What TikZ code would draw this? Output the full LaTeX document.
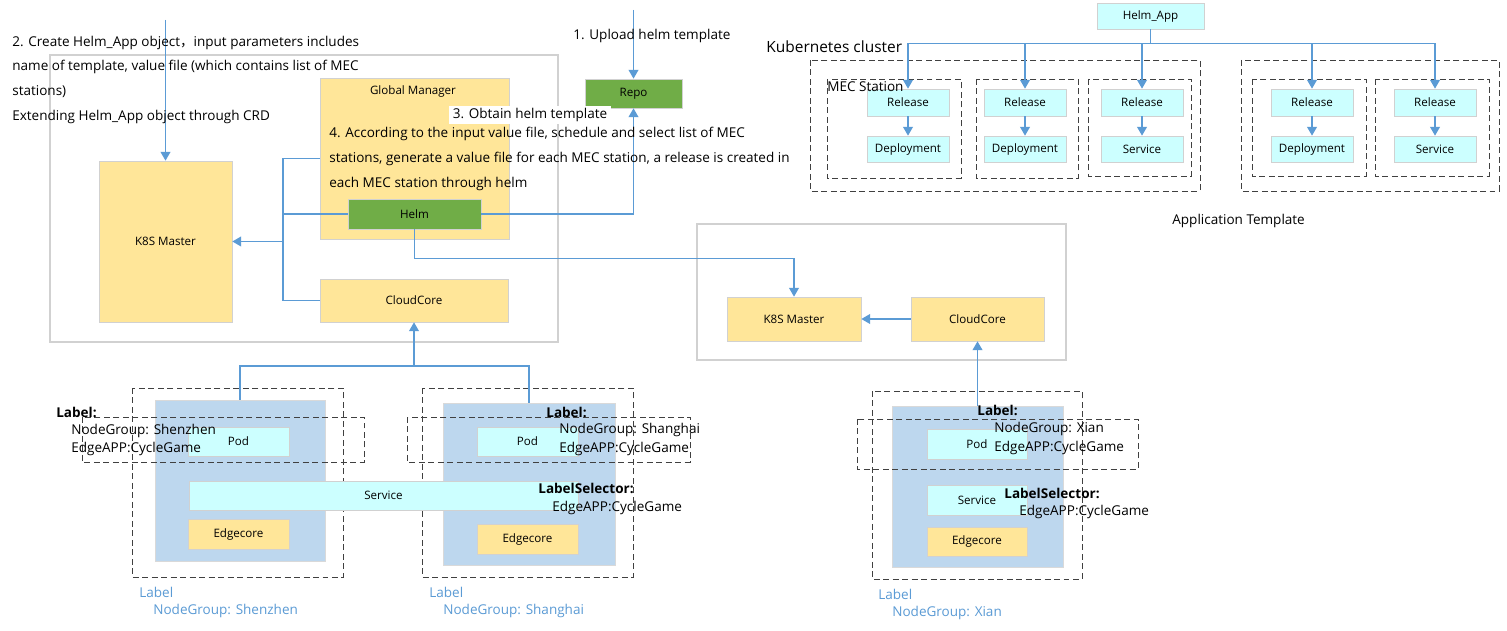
\documentclass[tikz,border=0pt]{standalone}
\usepackage{fontspec}
\setmainfont{Open Sans}
\newfontfamily\cjk{Noto Sans CJK SC}
\usetikzlibrary{arrows.meta}
\definecolor{boxyellow}{HTML}{FFE699}
\definecolor{boxcyan}{HTML}{CCFFFF}
\definecolor{boxgreen}{HTML}{70AD47}
\definecolor{boxblue}{HTML}{BDD7EE}
\definecolor{linkblue}{HTML}{5B9BD5}
\begin{document}
\begin{tikzpicture}[
        x=0.02cm, y=-0.02cm,
        every node/.style={inner sep=0pt},
        sz/.style 2 args={minimum width=#1*0.02cm, minimum height=#2*0.02cm},
        box/.style={draw=black!18, font=\fontsize{6.6}{8}\selectfont},
        ybox/.style={box, fill=boxyellow},
        cbox/.style={box, fill=boxcyan},
        gbox/.style={box, fill=boxgreen},
        nodebox/.style={draw=black!15, fill=boxblue},
        frame/.style={draw=black!18, line width=0.8pt},
        dashbox/.style={draw=black!75, dash pattern=on 3.4pt off 2pt, line width=0.55pt},
        link/.style={draw=linkblue, line width=0.7pt},
        arr/.style={link, -{Triangle[width=5.6pt,length=5pt]}},
        txt/.style={anchor=west, font=\fontsize{7.7}{9}\selectfont},
        boldtxt/.style={txt, font=\fontsize{7.7}{9}\selectfont\bfseries},
        bluetxt/.style={txt, text=linkblue}
    ]
    \fill[white] (0,0) rectangle (1507,631);
    \useasboundingbox (0,0) rectangle (1507,631);

    % cloud side
    \draw[frame] (50,55) rectangle (558,342);
    \node[ybox, sz={133}{161}] (k8sL) at (165.5,241.5) {K8S Master};
    \node[ybox, sz={189}{161}] (gm) at (414.5,158.5) {};
    \node[box, draw=none] (gmtitle) at (413,91) {Global Manager};
    \node[gbox, sz={133}{30}] (helm) at (414.5,214) {Helm};
    \node[ybox, sz={188}{43}] (ccL) at (414,300.5) {CloudCore};
    \node[gbox, sz={97}{29}] (repo) at (633.5,93.5) {Repo};

    \draw[frame] (697,224) rectangle (1066,360);
    \node[ybox, sz={134}{44}] (k8sR) at (794,319) {K8S Master};
    \node[ybox, sz={133}{44}] (ccR) at (977.5,319) {CloudCore};

    % helm app and releases
    \node[cbox, sz={107}{26}] (app) at (1150.5,16) {Helm\_App};
    \draw[dashbox] (810,60) rectangle (1200,191);
    \draw[dashbox] (1241,60) rectangle (1499,191);
    \foreach \xa/\xb/\yb in {827/961/178, 976/1078/178, 1088/1191/176, 1252/1366/176, 1375/1489/176}
        \draw[dashbox] (\xa,79) rectangle (\xb,\yb);
    \foreach \i/\xc/\kind in {1/908/Deployment, 2/1025/Deployment, 3/1142/Service,
                              4/1312/Deployment, 5/1435/Service} {
        \node[cbox, sz={82}{27}] (rel\i) at (\xc,102.5) {Release};
        \node[cbox, sz={82}{26}] (dep\i) at (\xc,149) {\kind};
        \draw[arr] (rel\i) -- (dep\i);
    }
    \draw[link] (app.south) -- ++(0,14) coordinate (appbus);
    \foreach \i in {1,...,5}
        \draw[arr] (appbus) -| (rel\i.north);

    % edge nodes
    \draw[dashbox] (132,388) rectangle (343,577);
    \node[nodebox, sz={170}{161}] (szNode) at (240,480.5) {};
    \node[cbox, sz={101}{29}] (szPod) at (238.5,441.5) {Pod};
    \node[ybox, sz={101}{30}] (szCore) at (238.5,534) {Edgecore};
    \draw[dashbox] (82,417) rectangle (364,462);

    \draw[dashbox] (422,388) rectangle (633,577);
    \node[nodebox, sz={172}{162}] (shNode) at (529,484) {};
    \node[cbox, sz={101}{29}] (shPod) at (527.5,441.5) {Pod};
    \node[ybox, sz={101}{30}] (shCore) at (527.5,539) {Edgecore};
    \draw[dashbox] (407,417) rectangle (690,462);
    \node[cbox, sz={389}{29}] (svc) at (383.5,495.5) {Service};

    \draw[dashbox] (872,391) rectangle (1082,579);
    \node[nodebox, sz={171}{161}] (xaNode) at (977.5,486.5) {};
    \node[cbox, sz={100}{30}] (xaPod) at (977,444) {Pod};
    \node[cbox, sz={100}{30}] (xaSvc) at (977,500) {Service};
    \node[ybox, sz={100}{29}] (xaCore) at (977,541.5) {Edgecore};
    \draw[dashbox] (857,419) rectangle (1138,469);

    % connectors
    \coordinate (in2) at (165.5,20);
    \coordinate (in1) at (633.5,10);
    \coordinate (jn) at (283,159);
    \coordinate (ccjn) at (ccL.south |- 0,366);
    \draw[arr] (in2) -- (k8sL.north);
    \draw[arr] (in1) -- (repo.north);
    \draw[arr] (helm.east) -| (repo.south);
    \draw[link] (gm.west) -- (gm.west -| jn) |- (ccL.west);
    \draw[link] (helm.west) -- (helm.west -| jn);
    \draw[arr] (jn |- k8sL.east) -- (k8sL.east);
    \draw[arr] (helm.south) -- ++(0,29) -| (k8sR.north);
    \draw[arr] (ccR.west) -- (k8sR.east);
    \draw[arr] (xaNode.north) -- (ccR.south);
    \draw[link] (szNode.north) |- (ccjn);
    \draw[link] (shNode.north) |- (ccjn);
    \draw[arr] (ccjn) -- (ccL.south);

    % texts
    \node[txt] (step2a) at (12,43) {2. Create Helm\_App object{\cjk ，}input parameters includes};
    \node[txt] (step2b) at (12,67) {name of template, value file (which contains list of MEC};
    \node[txt] (step2c) at (12,92) {stations)};
    \node[txt] (step2d) at (12,117) {Extending Helm\_App object through CRD};
    \node[txt] (step1) at (573,36) {1. Upload helm template};
    \node[txt, fill=white, inner xsep=2pt, inner ysep=1.5pt] (step3) at (449,115) {3. Obtain helm template};
    \node[txt] (step4a) at (329,134) {4. According to the input value file, schedule and select list of MEC};
    \node[txt] (step4b) at (329,159) {stations, generate a value file for each MEC station, a release is created in};
    \node[txt] (step4c) at (329,184) {each MEC station through helm};
    \node[txt, font=\fontsize{8.8}{10}\selectfont] (k8stitle) at (766,47) {Kubernetes cluster};
    \node[txt] (mectitle) at (827,87) {MEC Station};
    \node[txt] (apptitle) at (1172,221) {Application Template};

    \node[boldtxt] (szLabel) at (56,412) {Label:};
    \node[txt] (szGroup) at (71,431) {NodeGroup: Shenzhen};
    \node[txt] (szApp) at (71,449) {EdgeAPP:CycleGame};
    \node[boldtxt] (shLabel) at (546,412) {Label:};
    \node[txt] (shGroup) at (559,430) {NodeGroup: Shanghai};
    \node[txt] (shApp) at (559,449) {EdgeAPP:CycleGame};
    \node[boldtxt] (shSel) at (538,488) {LabelSelector:};
    \node[txt] (shSelApp) at (552,508) {EdgeAPP:CycleGame};
    \node[boldtxt] (xaLabel) at (977,410) {Label:};
    \node[txt] (xaGroup) at (994,429) {NodeGroup: Xian};
    \node[txt] (xaApp) at (994,448) {EdgeAPP:CycleGame};
    \node[boldtxt] (xaSel) at (1004,493) {LabelSelector:};
    \node[txt] (xaSelApp) at (1019,512) {EdgeAPP:CycleGame};

    \node[bluetxt] (szTag) at (139,592) {Label};
    \node[bluetxt] (szTagGroup) at (153,611) {NodeGroup: Shenzhen};
    \node[bluetxt] (shTag) at (429,592) {Label};
    \node[bluetxt] (shTagGroup) at (443,611) {NodeGroup: Shanghai};
    \node[bluetxt] (xaTag) at (878,594) {Label};
    \node[bluetxt] (xaTagGroup) at (892,613) {NodeGroup: Xian};
\end{tikzpicture}
\end{document}
